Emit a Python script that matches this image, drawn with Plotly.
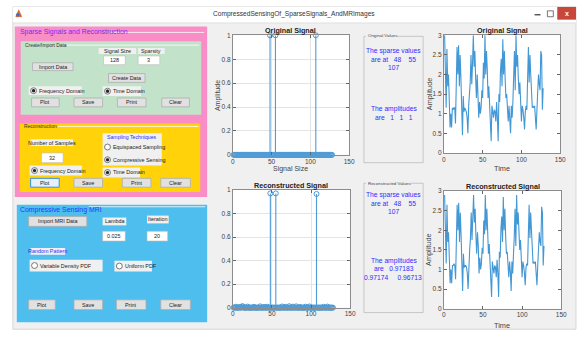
import plotly.graph_objects as go

W, H = 582, 342

# ---------------- data ----------------
sample_index = list(range(1, 129))
sparse_positions = [48, 55, 107]
original_amplitudes = [1, 1, 1]
recovered_amplitudes = [0.97183, 0.97174, 0.96713]
residual_positions = [4, 9, 12, 13, 19, 27, 35, 40, 44, 63, 67, 72, 77, 81, 86, 93, 98, 116, 121]
residual_values = [0.008, 0.006, 0.012, 0.010, 0.009, 0.007, 0.011, 0.006, 0.008, 0.010,
                   0.007, 0.012, 0.009, 0.011, 0.006, 0.008, 0.010, 0.007, 0.009]

time_original = [
    3.0, 1.9, 1.15, 2.65, 1.7, 2.0, 1.2, 0.65, 1.0, 0.65,
    1.15, 1.1, 1.15, 1.15, 0.75, 2.1, 2.7, 2.0, 2.75, 1.7,
    2.5, 1.9, 1.3, 0.45, 1.45, 1.05, 1.15, 1.1, 1.05, 0.9,
    0.5, 1.2, 1.5, 1.8, 2.5, 1.75, 2.3, 3.0, 2.2, 2.6,
    1.9, 1.4, 2.0, 1.6, 0.9, 1.3, 1.0, 1.15, 1.6, 1.4,
    2.3, 1.9, 3.0, 2.0, 2.6, 2.1, 1.4, 1.7, 1.2, 0.75,
    0.3, 1.2, 1.0, 0.9, 1.1, 1.05, 0.8, 1.3, 0.9, 0.3,
    1.5, 1.3, 2.1, 2.4, 1.7, 2.9, 2.0, 2.6, 1.9, 1.4,
    1.5, 1.1, 0.8, 1.2, 0.95, 0.5, 1.2, 0.9, 1.3, 1.9,
    2.6, 1.6, 3.0, 2.2, 2.5, 1.9, 1.5, 1.8, 1.3, 0.8,
    1.2, 1.1, 0.9, 0.6, 1.05, 1.2, 1.1, 2.0, 2.7, 1.8,
    2.5, 2.0, 1.4, 1.15, 1.2, 1.15, 1.2, 0.65, 0.6, 1.1,
    1.9, 2.0, 1.75, 1.6, 2.6, 2.5, 1.1, 1.65]

time_recovered = [
    2.9, 1.85, 1.15, 2.65, 1.7, 1.95, 1.2, 0.65, 1.0, 0.65,
    1.1, 1.1, 1.15, 1.1, 0.75, 2.05, 2.65, 2.0, 2.7, 1.7,
    2.45, 1.9, 1.3, 0.45, 1.4, 1.05, 1.1, 1.1, 1.05, 0.9,
    0.5, 1.2, 1.5, 1.8, 2.45, 1.75, 2.25, 2.9, 2.2, 2.55,
    1.85, 1.4, 1.95, 1.6, 0.9, 1.3, 1.0, 1.15, 1.55, 1.4,
    2.25, 1.9, 2.9, 2.0, 2.55, 2.05, 1.4, 1.65, 1.2, 0.75,
    0.3, 1.2, 1.0, 0.9, 1.1, 1.05, 0.8, 1.25, 0.9, 0.3,
    1.45, 1.3, 2.05, 2.35, 1.7, 2.85, 2.0, 2.55, 1.85, 1.4,
    1.45, 1.1, 0.8, 1.2, 0.95, 0.45, 1.2, 0.9, 1.3, 1.85,
    2.55, 1.6, 2.9, 2.15, 2.45, 1.9, 1.5, 1.75, 1.3, 0.8,
    1.2, 1.1, 0.9, 0.6, 1.05, 1.15, 1.1, 1.95, 2.65, 1.8,
    2.45, 2.0, 1.4, 1.15, 1.2, 1.15, 1.2, 0.65, 0.6, 1.1,
    1.85, 1.95, 1.7, 1.6, 2.6, 2.45, 1.1, 1.6]

stem_ticks = [0, 0.2, 0.4, 0.6, 0.8, 1]
signal_ticks = [0, 0.5, 1, 1.5, 2, 2.5, 3]
index_ticks = [0, 50, 100, 150]

# ---------------- helpers ----------------
FONT = "Liberation Sans"
STEM = "#4F9BD6"
LINE = "#4297D5"
BLUE_TXT = "#2E2EFF"
UI = 5.4

shapes, notes = [], []


def X(x):
    return x / W


def Y(y):
    return 1 - y / H


def rect(x0, y0, x1, y1, fill, line=None, lw=0.8):
    shapes.append(dict(type="rect", xref="paper", yref="paper", layer="below",
                       x0=X(x0), x1=X(x1), y0=Y(y1), y1=Y(y0), fillcolor=fill,
                       line=dict(color=line if line else fill, width=lw if line else 0)))


def seg(x0, y0, x1, y1, color, w=1):
    shapes.append(dict(type="line", xref="paper", yref="paper", layer="below",
                       x0=X(x0), x1=X(x1), y0=Y(y0), y1=Y(y1), line=dict(color=color, width=w)))


def circ(cx, cy, r, fill, line, lw=0.7):
    shapes.append(dict(type="circle", xref="paper", yref="paper", layer="below",
                       x0=X(cx - r), x1=X(cx + r), y0=Y(cy + r), y1=Y(cy - r), fillcolor=fill,
                       line=dict(color=line, width=lw)))


def text(x, y, s, size=UI, color="#222", anchor="left", bold=False, angle=0):
    notes.append(dict(x=X(x), y=Y(y), xref="paper", yref="paper", text=f"<b>{s}</b>" if bold else s,
                      showarrow=False, xanchor=anchor, yanchor="middle", textangle=angle,
                      font=dict(family=FONT, size=size, color=color), borderpad=0))


def button(x0, y0, x1, y1, label, focus=False):
    if focus:
        rect(x0, y0, x1, y1, "#E5F1FB", "#3C8FE0", 1)
    else:
        rect(x0, y0, x1, y1, "#E1E1E1", "#ADADAD", 0.8)
    text((x0 + x1) / 2, (y0 + y1) / 2, label, UI, "#222", "center")


def edit(x0, y0, x1, y1, val):
    rect(x0, y0, x1, y1, "#FFFFFF", "#B8B8B8", 0.6)
    text((x0 + x1) / 2, (y0 + y1) / 2, val, UI, "#222", "center")


def label_box(x0, y0, x1, y1, s, color="#222"):
    rect(x0, y0, x1, y1, "#F0F0F0")
    text((x0 + x1) / 2, (y0 + y1) / 2, s, UI, color, "center")


def radio(x0, y0, x1, y1, s, selected, bg="#F0F0F0"):
    if bg:
        rect(x0, y0, x1, y1, bg)
    cx, cy = x0 + 5, (y0 + y1) / 2
    circ(cx, cy, 3, "#FFFFFF", "#444", 0.7)
    if selected:
        circ(cx, cy, 1.6, "#222", "#222", 0.3)
    text(cx + 4.5, cy, s, UI, "#222", "left")


# ---------------- window frame ----------------
rect(11, 3, 582, 332, "#F0F0F0", "#CFCFCF", 0.8)
rect(11, 3, 582, 19, "#FFFFFF")
seg(11, 19.5, 582, 19.5, "#E2E2E2", 1)
# app icon
shapes.append(dict(type="path", xref="paper", yref="paper", layer="below",
                   path=f"M {X(14)} {Y(13)} L {X(17)} {Y(6)} L {X(20)} {Y(13)} Z",
                   fillcolor="#E0662A", line=dict(color="#B84A1C", width=0.5)))
circ(16, 11, 1.6, "#3A6FC4", "#3A6FC4", 0.3)
text(296, 10, "CompressedSensingOf_SparseSignals_AndMRImages", 6.6, "#333", "center")
# window controls
seg(540, 11, 546, 11, "#333", 1.2)
rect(553, 7, 559, 13, "rgba(0,0,0,0)", "#555", 0.8)
rect(563, 3, 582, 16, "#C9463D")
text(572.5, 9.5, "x", 7, "#FFFFFF", "center", bold=True)

# ---------------- left control panels ----------------
# Sparse signals panel
rect(13, 23, 208, 197, "#F98DC6")
seg(110, 29, 205, 29, "#FFFFFF", 0.8)
text(17, 29, "Sparse Signals and Reconstruction", 6.9, "#7A2BEF", "left")

rect(19, 38, 202, 113, "#C3E2CA")
seg(66, 42, 200, 42, "#FFFFFF", 0.8)
text(22, 42, "Create/Import Data", 4.9, "#333", "left")
label_box(98, 45, 136, 51, "Signal Size")
label_box(138, 45, 165, 51, "Sparsity")
edit(103, 53, 125, 62, "128")
edit(138, 53, 160, 62, "3")
button(31, 60, 72, 68, "Import Data")
button(108, 71, 145, 80, "Create Data")
radio(27, 84, 81, 93, "Frequency Domain", True)
radio(102, 84, 141, 94, "Time Domain", True)
button(30, 96, 58, 105, "Plot")
button(73, 96, 102, 105, "Save")
button(117, 96, 146, 105, "Print")
button(162, 96, 190, 105, "Clear")

rect(18, 122, 201, 192, "#FFD20A")
seg(57, 125, 199, 125, "#FFFFFF", 0.8)
text(21, 125, "Reconstruction", 4.9, "#333", "left")
label_box(29, 138, 72, 145, "Number of Samples")
edit(40, 152, 62, 162, "32")
radio(28, 165, 81, 175, "Frequency Domain", True)
rect(102, 132, 162, 165, "#F0F0F0")
text(132, 135.5, "Sampling Techniques", 5.2, BLUE_TXT, "center")
radio(102, 141, 160, 151, "Equispaced Sampling", False, None)
radio(102, 154, 160, 164, "Compressive Sensing", True, None)
radio(102, 167, 140, 177, "Time Domain", True)
button(29, 178, 58, 187, "Plot", focus=True)
button(73, 178, 102, 187, "Save")
button(122, 178, 151, 187, "Print")
button(161, 178, 191, 187, "Clear")

# MRI panel
rect(15, 205, 208, 325, "#4DBEEE")
seg(88, 207, 206, 207, "#FFFFFF", 0.8)
text(17, 210, "Compressive Sensing MRI", 6.9, "#1F3BFF", "left")
button(27, 217, 86, 227, "Import MRI Data")
label_box(102, 218, 126, 226, "Lambda")
label_box(147, 216, 169, 224, "Iteration")
edit(102, 232, 125, 242, "0.025")
edit(147, 232, 168, 242, "20")
label_box(29, 249, 64, 256, "Random Pattern", BLUE_TXT)
radio(28, 261, 102, 273, "Variable Density PDF", False)
radio(114, 262, 152, 273, "Uniform PDF", False)
button(27, 302, 54, 312, "Plot")
button(73, 302, 102, 312, "Save")
button(116, 302, 146, 312, "Print")
button(161, 302, 191, 312, "Clear")

# ---------------- value panels ----------------
VT = 6.7
rect(367, 33, 427, 162, "rgba(0,0,0,0)", "#B5B5B5", 0.7)
rect(369, 30, 401, 35, "#F0F0F0")
text(370, 32.5, "Original Values", 4.4, "#444", "left")
text(397, 48, "The sparse values", VT, BLUE_TXT, "center")
text(397, 57, f"are at   {sparse_positions[0]}    {sparse_positions[1]}", VT, BLUE_TXT, "center")
text(397, 65, f"{sparse_positions[2]}", VT, BLUE_TXT, "center")
text(397, 107, "The amplitudes", VT, BLUE_TXT, "center")
text(397, 116, "are   " + "   ".join(str(a) for a in original_amplitudes), VT, BLUE_TXT, "center")

rect(367, 183, 427, 315, "rgba(0,0,0,0)", "#B5B5B5", 0.7)
rect(369, 180, 414, 186, "#F0F0F0")
text(370, 183, "Reconstructed Values", 4.4, "#444", "left")
text(397, 195, "The sparse values", VT, BLUE_TXT, "center")
text(397, 204, f"are at   {sparse_positions[0]}    {sparse_positions[1]}", VT, BLUE_TXT, "center")
text(397, 212, f"{sparse_positions[2]}", VT, BLUE_TXT, "center")
text(397, 262, "The amplitudes", VT, BLUE_TXT, "center")
text(397, 270, f"are   {recovered_amplitudes[0]}", VT, BLUE_TXT, "center")
text(396, 279, f"{recovered_amplitudes[1]}     {recovered_amplitudes[2]}", VT, BLUE_TXT, "center")

# ---------------- plot areas ----------------
boxes = {
    1: (234, 32, 352, 154),
    2: (448, 32, 566, 152),
    3: (234, 190, 353, 310),
    4: (448, 191, 567, 311),
}
for (x0, y0, x1, y1) in boxes.values():
    rect(x0, y0, x1, y1, "#FFFFFF")

text(293, 27, "Original Signal", 7.2, "#222", "center", bold=True)
text(507, 27, "Original Signal", 7.2, "#222", "center", bold=True)
text(293.5, 185, "Reconstructed Signal", 7.2, "#222", "center", bold=True)
text(507.5, 186, "Reconstructed Signal", 7.2, "#222", "center", bold=True)
text(219, 93, "Amplitude", 7, "#444", "center", angle=-90)
text(433, 92, "Amplitude", 7.3, "#444", "center", angle=-90)
text(433, 251, "Amplitude", 7.3, "#444", "center", angle=-90)
text(293, 168, "Signal Size", 7, "#444", "center")
text(507, 168, "Time", 7.3, "#444", "center")
text(507, 328, "Time", 7.3, "#444", "center")


def dense(positions, values):
    out = [0.0] * len(sample_index)
    for p, v in zip(positions, values):
        out[sample_index.index(p)] = v
    return out


orig_stem = dense(sparse_positions, original_amplitudes)
rec_stem = dense(residual_positions + sparse_positions, residual_values + recovered_amplitudes)


def stem_traces(vals, xa, ya):
    sx, sy = [], []
    for i, v in zip(sample_index, vals):
        if v:
            sx += [i, i, None]
            sy += [0, v, None]
    return [
        go.Scatter(x=sx, y=sy, mode="lines", line=dict(color=STEM, width=1.1),
                   xaxis=xa, yaxis=ya, hoverinfo="skip", cliponaxis=False, showlegend=False),
        go.Scatter(x=sample_index, y=vals, mode="markers",
                   marker=dict(symbol="circle-open", size=5, color=STEM, line=dict(width=1, color=STEM)),
                   xaxis=xa, yaxis=ya, cliponaxis=False, showlegend=False),
    ]


fig = go.Figure()
for tr in stem_traces(orig_stem, "x", "y"):
    fig.add_trace(tr)
fig.add_trace(go.Scatter(x=sample_index, y=time_original, mode="lines",
                         line=dict(color=LINE, width=1.1), xaxis="x2", yaxis="y2", showlegend=False))
for tr in stem_traces(rec_stem, "x3", "y3"):
    fig.add_trace(tr)
fig.add_trace(go.Scatter(x=sample_index, y=time_recovered, mode="lines",
                         line=dict(color=LINE, width=1.1), xaxis="x4", yaxis="y4", showlegend=False))


def ax(dom, rng, ticks, grid, anchor):
    return dict(domain=dom, range=rng, tickvals=ticks, ticks="inside", ticklen=3,
                tickcolor="#666", showline=True, linecolor="#8C8C8C", linewidth=0.8,
                mirror="ticks", showgrid=grid, gridcolor="#E4E4E4", gridwidth=0.8,
                zeroline=False, anchor=anchor, fixedrange=True,
                tickfont=dict(family=FONT, size=6.5, color="#444"))


layout_axes = {}
for k, (x0, y0, x1, y1) in boxes.items():
    stem = k in (1, 3)
    sfx = "" if k == 1 else str(k)
    layout_axes[f"xaxis{sfx}"] = ax([X(x0), X(x1)], [0, 150], index_ticks, stem, f"y{sfx}")
    layout_axes[f"yaxis{sfx}"] = ax([Y(y1), Y(y0)], [0, 1] if stem else [0, 3],
                                    stem_ticks if stem else signal_ticks, stem, f"x{sfx}")

fig.update_layout(
    width=W, height=H, autosize=False,
    margin=dict(l=0, r=0, t=0, b=0),
    paper_bgcolor="#FFFFFF", plot_bgcolor="#FFFFFF",
    showlegend=False, shapes=shapes, annotations=notes,
    font=dict(family=FONT),
    **layout_axes,
)

fig.write_html("out.html")
